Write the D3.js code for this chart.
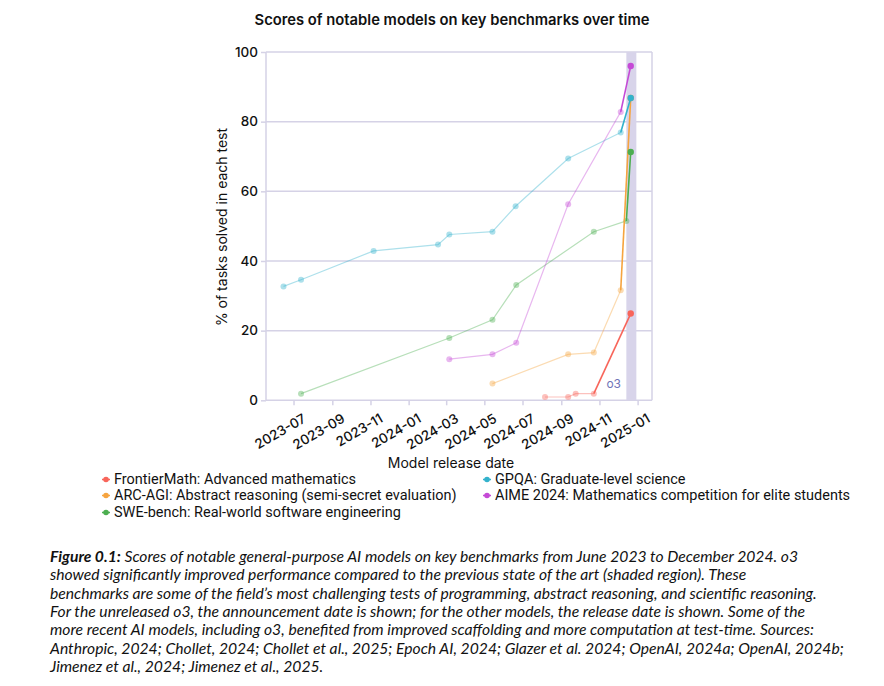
<!DOCTYPE html>
<html><head><meta charset="utf-8">
<script src="https://cdn.jsdelivr.net/npm/d3@7"></script>
<style>body{margin:0;background:#fff}svg{display:block}</style>
</head><body>
<svg id="c" width="884" height="686"></svg>
<script>
// ---------- data ----------
const seriesNames = ["FrontierMath", "ARC-AGI", "SWE-bench", "GPQA", "AIME 2024"];
const legendLabels = [
  "FrontierMath: Advanced mathematics",
  "GPQA: Graduate-level science",
  "ARC-AGI: Abstract reasoning (semi-secret evaluation)",
  "AIME 2024: Mathematics competition for elite students",
  "SWE-bench: Real-world software engineering"
];
const legendKeys = ["FrontierMath", "GPQA", "ARC-AGI", "AIME 2024", "SWE-bench"];

const frontierDates = ["2024-08-06","2024-09-12","2024-09-24","2024-10-23","2024-12-21"];
const frontierValues = [0.95, 0.95, 1.9, 1.9, 24.9];
const arcDates = ["2024-05-14","2024-09-12","2024-10-23","2024-12-05","2024-12-21"];
const arcValues = [4.8, 13.2, 13.7, 31.6, 86.8];
const sweDates = ["2023-07-13","2024-03-06","2024-05-14","2024-06-21","2024-10-23","2024-12-14","2024-12-21"];
const sweValues = [1.9, 17.9, 23.1, 33.1, 48.4, 51.5, 71.3];
const gpqaDates = ["2023-06-15","2023-07-13","2023-11-06","2024-02-17","2024-03-06","2024-05-14","2024-06-20","2024-09-12","2024-12-05","2024-12-21"];
const gpqaValues = [32.7, 34.6, 42.9, 44.7, 47.6, 48.4, 55.7, 69.4, 76.9, 86.8];
const aimeDates = ["2024-03-06","2024-05-14","2024-06-21","2024-09-12","2024-12-05","2024-12-21"];
const aimeValues = [11.8, 13.2, 16.5, 56.3, 82.8, 96.0];

const yTicks = [0, 20, 40, 60, 80, 100];
const xDomain = ["2023-05-18", "2025-01-24"];
const o3Band = ["2024-12-14", "2024-12-30"];

const colors = {
  "FrontierMath": "#f8655a",
  "ARC-AGI": "#f6a43f",
  "SWE-bench": "#4cae50",
  "GPQA": "#33b2cc",
  "AIME 2024": "#c54ad6"
};

const captionLines = [
  "Scores of notable general-purpose AI models on key benchmarks from June 2023 to December 2024. o3",
  "showed significantly improved performance compared to the previous state of the art (shaded region). These",
  "benchmarks are some of the field\u2019s most challenging tests of programming, abstract reasoning, and scientific reasoning.",
  "For the unreleased o3, the announcement date is shown; for the other models, the release date is shown. Some of the",
  "more recent AI models, including o3, benefited from improved scaffolding and more computation at test-time. Sources:",
  "Anthropic, 2024; Chollet, 2024; Chollet et al., 2025; Epoch AI, 2024; Glazer et al. 2024; OpenAI, 2024a; OpenAI, 2024b;",
  "Jimenez et al., 2024; Jimenez et al., 2025."
];

// ---------- build ----------
const parse = d3.timeParse("%Y-%m-%d");
const mk = (ds, vs) => ds.map((d, i) => ({date: parse(d), value: vs[i]}));
const series = [
  {name: "FrontierMath", pts: mk(frontierDates, frontierValues)},
  {name: "ARC-AGI", pts: mk(arcDates, arcValues)},
  {name: "SWE-bench", pts: mk(sweDates, sweValues)},
  {name: "GPQA", pts: mk(gpqaDates, gpqaValues)},
  {name: "AIME 2024", pts: mk(aimeDates, aimeValues)}
];

const svg = d3.select("#c");
const L = 266, R = 652, T = 52, B = 400.3;
const gridCol = "#d5d2e6";
const axisFont = "Inter, 'DejaVu Sans', sans-serif";

const x = d3.scaleTime().domain(xDomain.map(parse)).range([L, R]);
const y = d3.scaleLinear().domain([0, 100]).range([B, T]);

function fit(sel, target) {
  const n = sel.node();
  const w = n.getComputedTextLength();
  const fs = parseFloat(sel.attr("font-size"));
  sel.attr("font-size", (fs * target / w).toFixed(2));
}

// title
const title = svg.append("text").attr("x", 452).attr("y", 25).attr("text-anchor", "middle")
  .attr("font-family", axisFont).attr("font-weight", 600).attr("font-size", 14.5)
  .attr("fill", "#111").text("Scores of notable models on key benchmarks over time");
fit(title, 395);

// gridlines
svg.append("g").selectAll("line").data(yTicks).join("line")
  .attr("x1", L).attr("x2", R).attr("y1", d => y(d)).attr("y2", d => y(d))
  .attr("stroke", gridCol).attr("stroke-width", 1.5);

// band
svg.append("rect").attr("x", x(parse(o3Band[0]))).attr("y", T)
  .attr("width", x(parse(o3Band[1])) - x(parse(o3Band[0]))).attr("height", B - T)
  .attr("fill", "#d8d4ea");

// frame
svg.append("line").attr("x1", R).attr("x2", R).attr("y1", T).attr("y2", B).attr("stroke", gridCol).attr("stroke-width", 1.5);
svg.append("line").attr("x1", L).attr("x2", L).attr("y1", T).attr("y2", B).attr("stroke", gridCol).attr("stroke-width", 1.5);

// y axis
const yAxis = svg.append("g").attr("transform", `translate(${L},0)`)
  .call(d3.axisLeft(y).tickValues(yTicks).tickSize(5).tickPadding(3));
yAxis.select(".domain").remove();
yAxis.selectAll("line").attr("stroke", gridCol).attr("stroke-width", 1.5);
yAxis.selectAll("text").attr("font-family", axisFont).attr("font-size", 13.5).attr("font-weight", 500).attr("fill", "#111");

// x axis
const xAxis = svg.append("g").attr("transform", `translate(0,${B})`)
  .call(d3.axisBottom(x).ticks(d3.timeMonth.every(2)).tickFormat(d3.timeFormat("%Y-%m")).tickSize(5));
xAxis.select(".domain").remove();
xAxis.selectAll("line").attr("stroke", gridCol).attr("stroke-width", 1.5);
xAxis.selectAll("text").attr("font-family", axisFont).attr("font-size", 13.5).attr("font-weight", 500).attr("fill", "#111")
  .attr("text-anchor", "end").attr("dy", null).attr("y", 0)
  .attr("transform", "translate(13,21) rotate(-30)");

// axis titles
svg.append("text").attr("transform", "translate(227,227) rotate(-90)").attr("text-anchor", "middle")
  .attr("font-family", axisFont).attr("font-size", 14).attr("fill", "#111")
  .text("% of tasks solved in each test");
svg.append("text").attr("x", 451).attr("y", 468).attr("text-anchor", "middle")
  .attr("font-family", axisFont).attr("font-size", 14).attr("fill", "#111")
  .text("Model release date");

// o3 label
svg.append("text").attr("x", 621).attr("y", 388).attr("text-anchor", "end")
  .attr("font-family", axisFont).attr("font-size", 12).attr("fill", "#6f74b8").text("o3");

// series
const line = d3.line().x(d => x(d.date)).y(d => y(d.value));
const g = svg.append("g");
series.forEach(s => {
  const c = colors[s.name];
  const n = s.pts.length;
  const prior = s.pts.slice(0, n - 1);
  g.append("path").datum(prior).attr("d", line).attr("fill", "none")
    .attr("stroke", c).attr("stroke-width", 1.2).attr("stroke-opacity", 0.4);
  g.append("g").selectAll("circle").data(prior).join("circle")
    .attr("cx", d => x(d.date)).attr("cy", d => y(d.value)).attr("r", 3)
    .attr("fill", c).attr("fill-opacity", 0.4);
});
series.forEach(s => {
  const c = colors[s.name];
  const n = s.pts.length;
  const last2 = s.pts.slice(n - 2);
  g.append("path").datum(last2).attr("d", line).attr("fill", "none")
    .attr("stroke", c).attr("stroke-width", 1.6);
  g.append("circle").datum(s.pts[n - 1]).attr("cx", d => x(d.date)).attr("cy", d => y(d.value))
    .attr("r", 3.2).attr("fill", c);
});

// legend
const legendFont = "Roboto, 'Liberation Sans', sans-serif";
const lg = svg.append("g");
const legPos = [[106, 484], [487, 484], [106, 500], [487, 500], [106, 517]];
let aimeText = null;
legendKeys.forEach((k, i) => {
  const [lx, ly] = legPos[i];
  const c = colors[k];
  lg.append("line").attr("x1", lx - 4).attr("x2", lx + 4).attr("y1", ly - 4.5).attr("y2", ly - 4.5)
    .attr("stroke", c).attr("stroke-width", 1.5);
  lg.append("circle").attr("cx", lx).attr("cy", ly - 4.5).attr("r", 2.8).attr("fill", c);
  const t = lg.append("text").attr("x", lx + 8).attr("y", ly).attr("font-family", legendFont)
    .attr("font-size", 13.5).attr("fill", "#111").text(legendLabels[i]);
  if (k === "AIME 2024") aimeText = t;
});
fit(aimeText, 355);
lg.selectAll("text").attr("font-size", aimeText.attr("font-size"));

// caption
const capFont = "Lato, 'Open Sans', sans-serif";
const cap = svg.append("g");
const capY0 = 562, capDy = 18.35;
captionLines.forEach((ln, i) => {
  const t = cap.append("text").attr("x", 50).attr("y", capY0 + i * capDy)
    .attr("font-family", capFont).attr("font-style", "italic").attr("font-size", 14).attr("fill", "#111");
  if (i === 0) {
    t.append("tspan").attr("font-weight", 700).text("Figure 0.1:");
    t.append("tspan").text(" " + ln);
  } else t.text(ln);
});
const l3 = cap.selectAll("text").filter((d, i) => i === 2);
fit(l3, 767);
cap.selectAll("text").attr("font-size", l3.attr("font-size"));
</script>
</body></html>
